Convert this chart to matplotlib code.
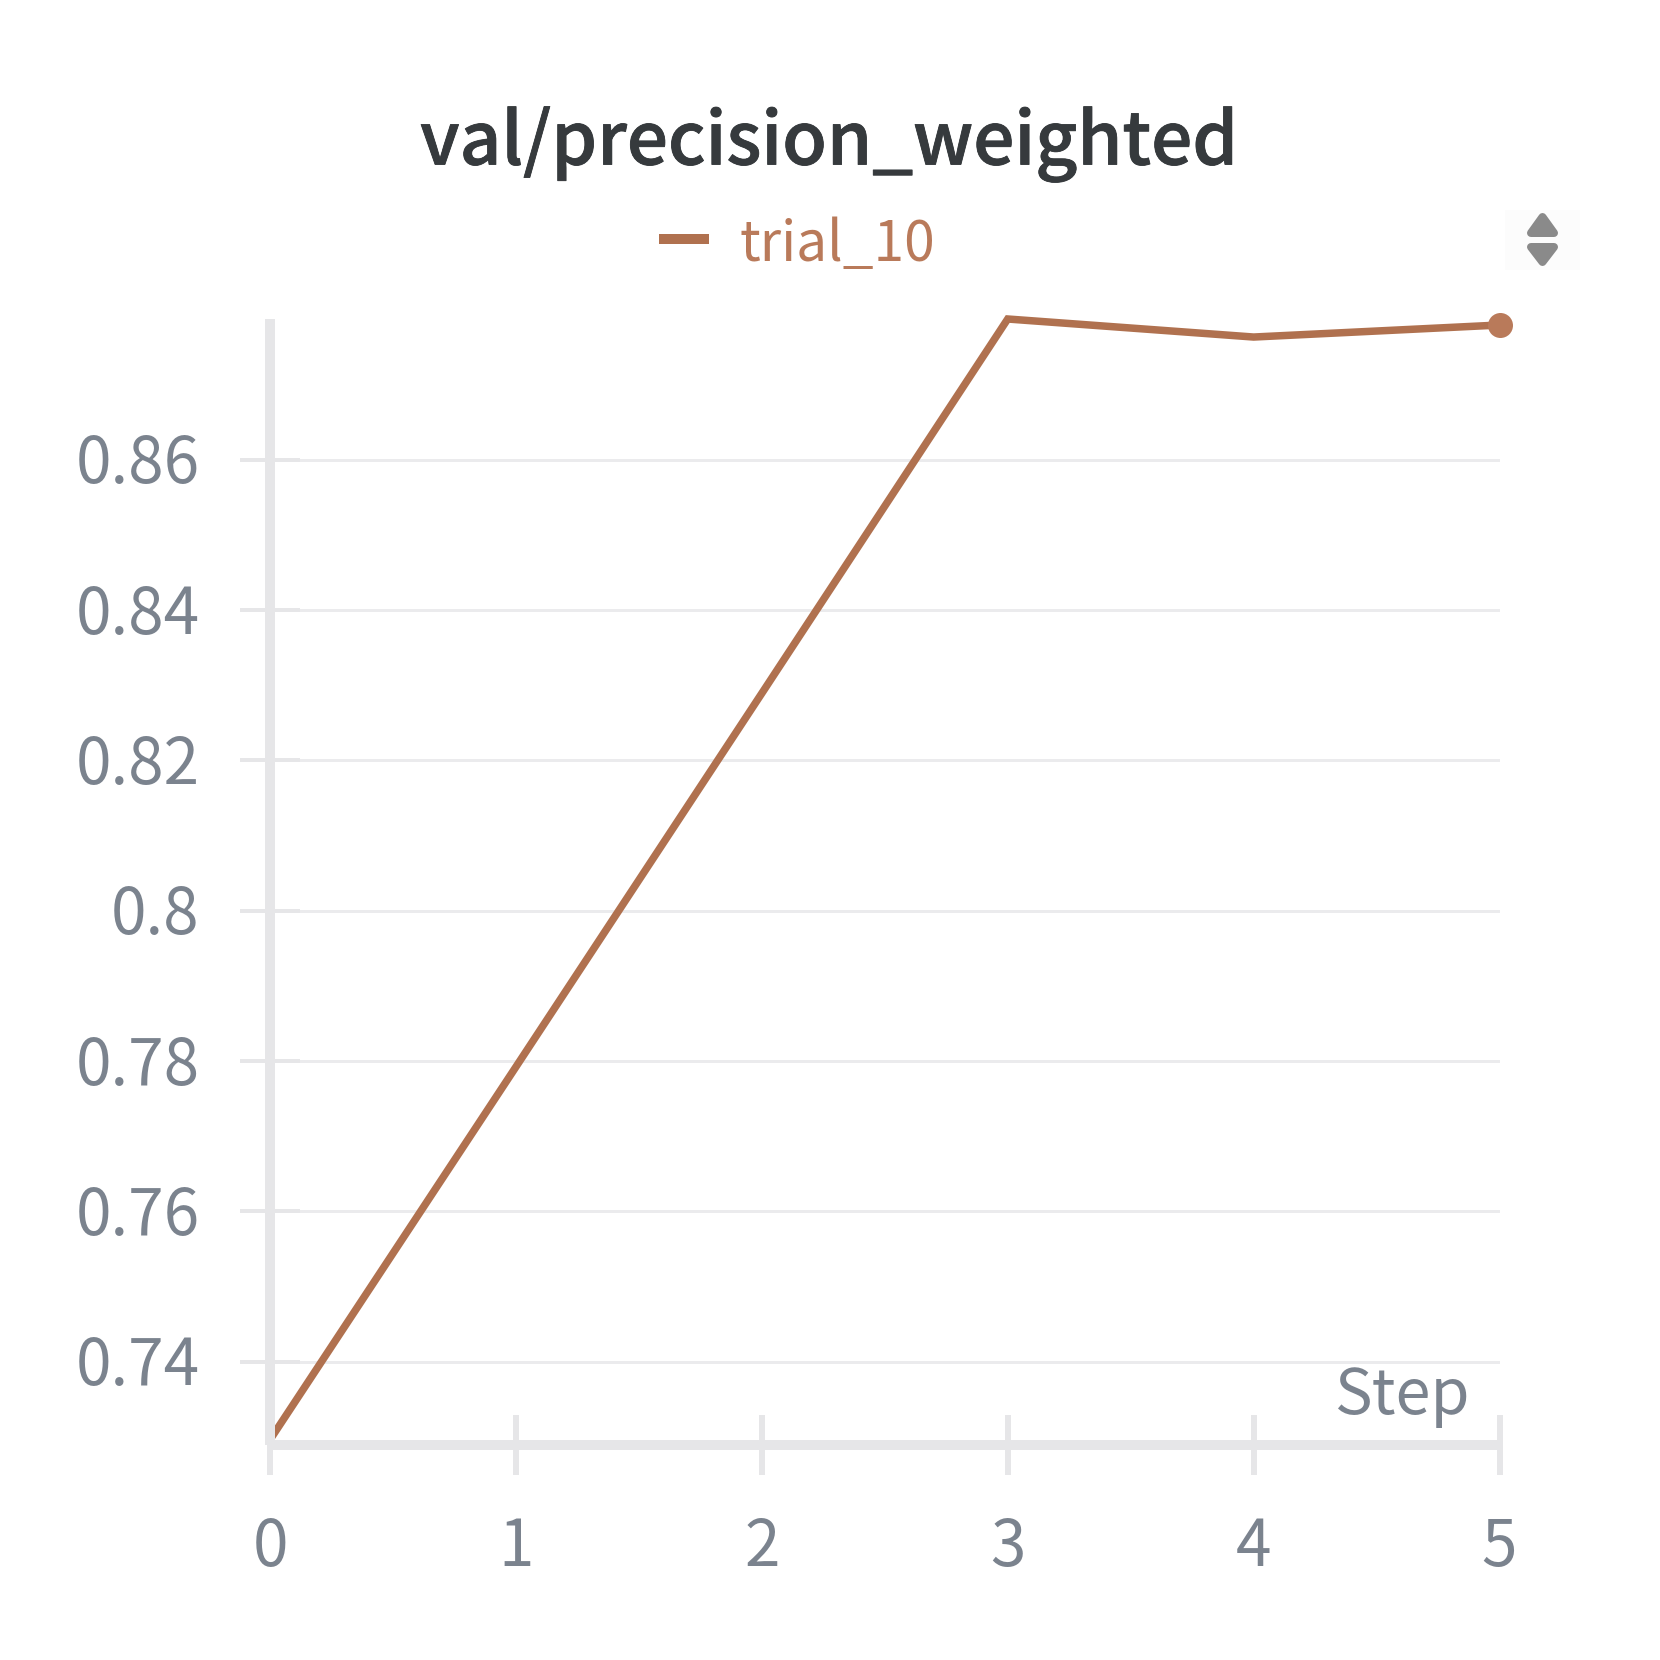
import matplotlib
matplotlib.use('Agg')
import matplotlib.pyplot as plt
import matplotlib.patheffects as pe
from matplotlib.patches import Polygon, Rectangle
from matplotlib.transforms import ScaledTranslation

plt.rcParams['font.family'] = ['Noto Sans CJK JP', 'DejaVu Sans']

# values
steps = [0, 1, 2, 3, 4, 5]
precision = [0.7296, 0.7792, 0.8289, 0.8787, 0.8763, 0.8779]
y_ticks = [0.74, 0.76, 0.78, 0.8, 0.82, 0.84, 0.86]
y_labels = ['0.74', '0.76', '0.78', '0.8', '0.82', '0.84', '0.86']

W = 1660
PT = 72 / 100  # one pixel in points at dpi=100

axis_col = '#e6e6e8'
grid_col = '#ebebed'
text_col = '#7b838e'
line_col = '#b0714f'
label_col = '#b97a5a'


def fx(px):
    return px / W


def fy(py):
    return 1 - py / W


fig = plt.figure(figsize=(16.6, 16.6), dpi=100, facecolor='white')
ax = fig.add_axes([fx(270), fy(1445), fx(1499.5 - 270), (1445 - 319) / W])

ax.set_xlim(0, 5)
ax.set_ylim(0.7289, 0.8787)

ax.plot(steps, precision, color=line_col, lw=7.5 * PT, solid_joinstyle='miter',
        solid_capstyle='butt', clip_on=False, zorder=2)
ax.plot(steps[-1], precision[-1], 'o', color=label_col, ms=25 * PT, mew=0,
        clip_on=False, zorder=4)

ax.set_xticks(steps)
ax.set_yticks(y_ticks)
ax.set_yticklabels(y_labels)
ax.grid(axis='y', color=grid_col, lw=3 * PT)
ax.set_axisbelow(True)

ax.tick_params(axis='x', direction='inout', length=60 * PT, width=6 * PT,
               color=axis_col, labelcolor=text_col, labelsize=46, pad=28.5)
ax.tick_params(axis='y', direction='inout', length=60 * PT, width=4 * PT,
               color=axis_col, labelcolor=text_col, labelsize=46, pad=29)

# y labels sit 2 px higher than the centred default
for lab in ax.get_yticklabels():
    lab.set_transform(lab.get_transform() + ScaledTranslation(0, 2 / 100, fig.dpi_scale_trans))

ax.spines['top'].set_visible(False)
ax.spines['right'].set_visible(False)
for s in ['left', 'bottom']:
    ax.spines[s].set_color(axis_col)
    ax.spines[s].set_linewidth(10 * PT)
    ax.spines[s].set_capstyle('butt')
    ax.spines[s].set_zorder(3)

title = fig.text(fx(829), fy(164.5), 'val/precision_weighted', ha='center', va='baseline',
                 fontsize=52.3, fontweight='medium', color='#363a3d')
title.set_path_effects([pe.withStroke(linewidth=0.6, foreground='#363a3d')])
fig.text(fx(1470), fy(1414), 'Step', ha='right', va='baseline', fontsize=45.5,
         color=text_col)

# legend
fig.add_artist(plt.Line2D([fx(659), fx(709)], [fy(239), fy(239)], color=line_col,
                          lw=10 * PT, solid_capstyle='butt'))
fig.text(fx(739), fy(261), 'trial_10', ha='left', va='baseline', fontsize=39.6,
         color=label_col)

# sort button
fig.add_artist(Rectangle((fx(1505), fy(270)), 75 / W, 60 / W, color='#fcfcfc', lw=0,
                         transform=fig.transFigure))
up = [(fx(1542.5), fy(217)), (fx(1531), fy(233)), (fx(1554), fy(233))]
down = [(fx(1531), fy(247)), (fx(1554), fy(247)), (fx(1542.5), fy(262))]
for tri in [up, down]:
    fig.add_artist(Polygon(tri, closed=True, facecolor='#8a8a8a', edgecolor='#8a8a8a',
                           lw=8 * PT, joinstyle='round', transform=fig.transFigure))

fig.savefig('out.png', dpi=100)
